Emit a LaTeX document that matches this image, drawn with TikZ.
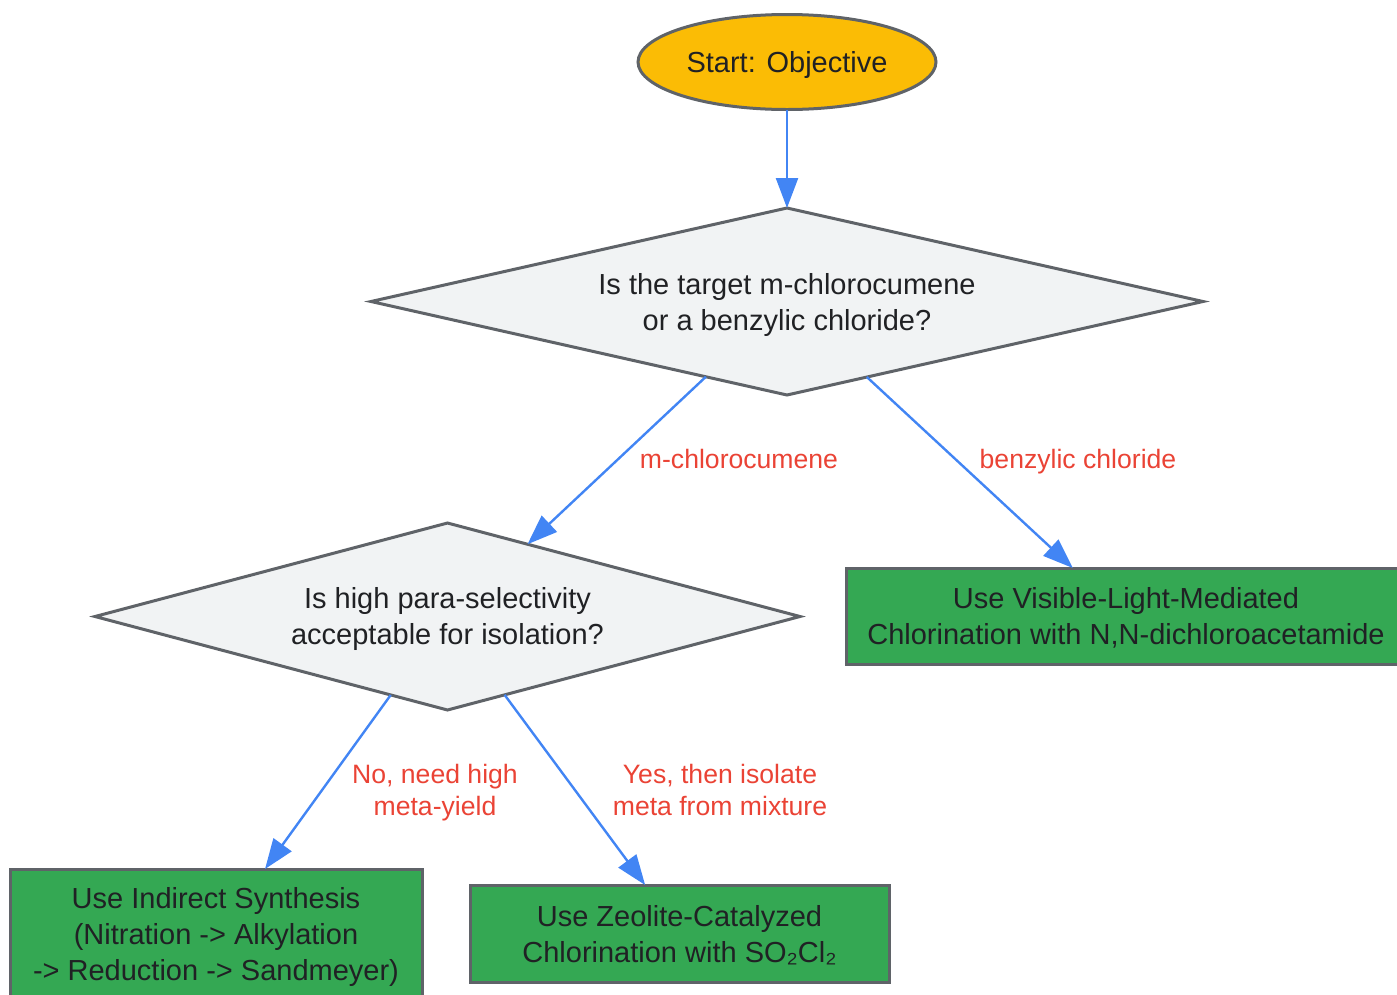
\documentclass[tikz,border=0pt]{standalone}
\usepackage{fontspec}
\setmainfont{Liberation Sans}
\usetikzlibrary{shapes.geometric,arrows.meta,calc}
\definecolor{cyellow}{HTML}{FBBC05}
\definecolor{cgreen}{HTML}{34A853}
\definecolor{cblue}{HTML}{4285F4}
\definecolor{cred}{HTML}{EA4335}
\definecolor{cgray}{HTML}{5F6368}
\definecolor{cfill}{HTML}{F1F3F4}
\definecolor{ctext}{HTML}{202124}
\begin{document}
\begin{tikzpicture}[x=1pt,y=-1pt,
  base/.style={draw=cgray,line width=3pt,inner sep=0pt,outer sep=0pt},
  intext/.style={text=ctext,align=center,inner sep=0pt,font=\fontsize{29}{36}\selectfont},
  startnode/.style={base,ellipse,fill=cyellow,minimum width=298pt,minimum height=95pt},
  decision/.style={base,diamond,fill=cfill},
  action/.style={base,rectangle,fill=cgreen},
  flow/.style={draw=cblue,line width=2.4pt,-{Triangle[length=30pt,width=22pt]}},
  elabel/.style={text=cred,align=center,font=\fontsize{26.6}{32}\selectfont,inner sep=0pt}
]
\useasboundingbox (0,0) rectangle (1397,994);
\begin{scope}
\clip (0,0) rectangle (1397,994);
\node[startnode,label={[intext,yshift=-3pt]center:Start: Objective}] (start) at (787,62) {};
\node[decision,minimum width=832pt,minimum height=187pt,
  label={[intext,yshift=-3.5pt]center:{Is the target m-chlorocumene\\or a benzylic chloride?}}] (d1) at (787,301.5) {};
\node[decision,minimum width=705pt,minimum height=187pt,
  label={[intext,yshift=-2.5pt]center:{Is high para-selectivity\\acceptable for isolation?}}] (d2) at (447.5,616.5) {};
\node[action,minimum width=560pt,minimum height=96pt,
  label={[intext,yshift=-2pt]center:{Use Visible-Light-Mediated\\Chlorination with N,N-dichloroacetamide}}] (b1) at (1126,616) {};
\node[action,minimum width=412pt,minimum height=132pt,
  label={[intext,yshift=-2pt]center:{Use Indirect Synthesis\\(Nitration -> Alkylation\\-> Reduction -> Sandmeyer)}}] (b2) at (216,935) {};
\node[action,minimum width=419pt,minimum height=97pt,
  label={[intext,yshift=-2pt]center:{Use Zeolite-Catalyzed\\Chlorination with SO₂Cl₂}}] (b3) at (679.5,933.5) {};

\draw[flow] (start) -- (d1);
\draw[flow] ($(d1.west)!0.805!(d1.south)$) -- ($(d2.north)!0.227!(d2.east)$);
\draw[flow] ($(d1.south)!0.192!(d1.east)$) -- ($(b1.north west)!0.405!(b1.north east)$);
\draw[flow] ($(d2.west)!0.839!(d2.south)$) -- ($(b2.north west)!0.619!(b2.north east)$);
\draw[flow] ($(d2.south)!0.162!(d2.east)$) -- ($(b3.north west)!0.418!(b3.north east)$);

\node[elabel] (l1) at (739,459) {m-chlorocumene};
\node[elabel] (l2) at (1078,462) {benzylic chloride};
\node[elabel] (l3) at (435,793) {No, need high\\meta-yield};
\node[elabel] (l4) at (720,790) {Yes, then isolate\\meta from mixture};
\end{scope}
\end{tikzpicture}
\end{document}
